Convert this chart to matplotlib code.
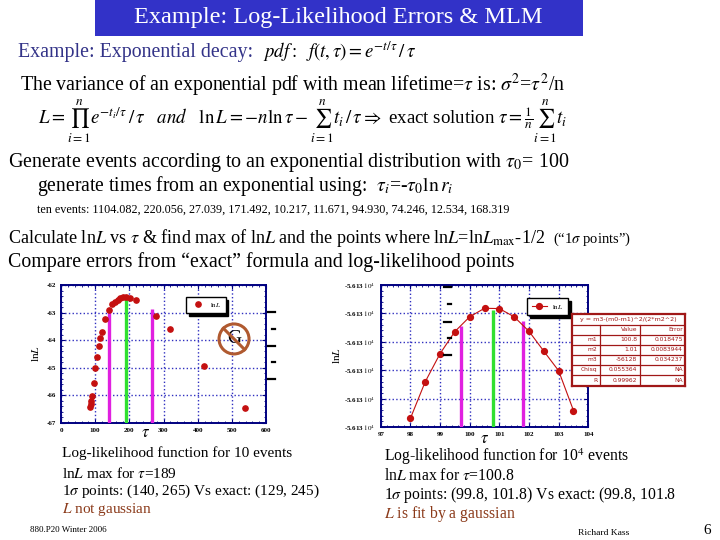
import numpy as np
import matplotlib.pyplot as plt
from matplotlib.patches import Ellipse, Rectangle
from matplotlib.lines import Line2D
from matplotlib.ticker import MultipleLocator, FuncFormatter

plt.rcParams['font.family'] = 'serif'
plt.rcParams['font.serif'] = ['Liberation Serif', 'DejaVu Serif']
plt.rcParams['mathtext.fontset'] = 'stix'

W, H = 720, 540

# ---- data ----
# 10 events: lnL vs tau
tau_10 = [85.9, 86.8, 87.8, 89.7, 96.6, 100.4, 104.5, 110.3, 115.0, 120.0, 128.8,
          140.5, 150.0, 158.0, 166.0, 173.6, 181.4, 189.0, 201.0, 219.5, 279.5,
          319.5, 418.8, 538.5]
lnl_10 = [-66.43, -66.31, -66.19, -66.02, -65.54, -65.02, -64.61, -64.22, -63.92,
          -63.70, -63.22, -62.91, -62.69, -62.62, -62.54, -62.48, -62.43, -62.42,
          -62.46, -62.56, -63.11, -63.61, -64.93, -66.46]
sig_10 = [140, 265]
sig_10_top = [-62.85, -62.86]
max_10 = 189
max_10_top = -62.40

# 10^4 events: lnL vs tau
tau_1e4 = [98.0, 98.5, 99.0, 99.5, 100.0, 100.5, 101.0, 101.5, 102.0, 102.5, 103.0, 103.5]
lnl_1e4 = [-56134.30, -56133.01, -56132.02, -56131.24, -56130.72, -56130.42,
           -56130.43, -56130.72, -56131.23, -56131.93, -56132.62, -56134.02]
sig_1e4 = [99.7, 101.8]
sig_1e4_top = [-56131.05, -56130.85]
max_1e4 = 100.8
max_1e4_top = -56130.48
ylim_1e4 = (-56134.6, -56129.6)

# gaussian fit table
fit_title = "y = m3-(m0-m1)^2/(2*m2^2)"
fit_rows = ["m1", "m2", "m3", "Chisq", "R"]
fit_values = ["100.8", "1.01", "-56128", "0.055364", "0.99962"]
fit_errors = ["0.018475", "0.0083944", "0.034237", "NA", "NA"]

ten_events = [1104.082, 220.056, 27.039, 171.492, 10.217, 11.671, 94.930, 74.246, 12.534, 168.319]

RED = '#c41010'
NAVY = '#000080'
GRID = '#3030c0'
MAG = '#e020e0'
GREEN = '#30e030'
BROWN = '#8b3a1a'
TRED = '#a01818'


def fx(x):
    return x / W


def fy(y):
    return 1 - y / H


def style_axes(ax):
    for s in ax.spines.values():
        s.set_color(NAVY)
        s.set_linewidth(1.4)
    ax.tick_params(which='both', direction='in', top=True, right=True,
                   colors=NAVY, labelcolor='black', labelsize=5)
    ax.tick_params(which='major', length=3)
    ax.tick_params(which='minor', length=1.5)
    ax.grid(True, which='major', color=GRID, linestyle=':', linewidth=1.0)
    for lab in ax.get_xticklabels() + ax.get_yticklabels():
        lab.set_fontweight('bold')


fig = plt.figure(figsize=(7.2, 5.4), dpi=100)

# ---- title bar ----
fig.patches.append(Rectangle((fx(95), fy(36)), fx(488), 36 / H, transform=fig.transFigure,
                             facecolor='#3232c8', edgecolor='none'))
fig.text(fx(338), fy(18), "Example: Log-Likelihood Errors & MLM", color='white',
         fontsize=17.5, ha='center', va='center')

# ---- slide text ----
fig.text(fx(18), fy(52), "Example: Exponential decay:", color='#333388', fontsize=14.3,
         va='center')
fig.text(fx(263), fy(52), r"$pdf:\ \ f(t,\tau)=e^{-t/\tau}\,/\,\tau$", fontsize=13.5,
         va='center')
fig.text(fx(20), fy(85), r"The variance of an exponential pdf with mean lifetime=$\tau$ is: "
         r"$\sigma^2$=$\tau^2$/n", fontsize=14.3, va='center')
fig.text(fx(38), fy(121),
         r"$L=\prod_{i=1}^{n}e^{-t_i/\tau}\,/\,\tau\quad and\quad \ln L=-n\ln\tau-"
         r"\sum_{i=1}^{n}t_i\,/\,\tau\Rightarrow$ exact solution $\tau=\frac{1}{n}\sum_{i=1}^{n}t_i$",
         fontsize=13.6, va='center')
fig.text(fx(8), fy(163), r"Generate events according to an exponential distribution with "
         r"$\tau_0$= 100", fontsize=14.4, va='center')
fig.text(fx(37), fy(186), r"generate times from an exponential using:  $\tau_i$=-$\tau_0\ln r_i$",
         fontsize=14.1, va='center')
fig.text(fx(37), fy(210), "ten events: " + ", ".join("%.3f" % v for v in ten_events),
         fontsize=8.7, va='center')
fig.text(fx(8), fy(238), r"Calculate ln$L$ vs $\tau$ & find max of ln$L$ and the points where "
         r"ln$L$=ln$L_{\rm max}$-1/2", fontsize=13.1, va='center')
fig.text(fx(553), fy(239), r"(“1$\sigma$ points”)", fontsize=10.5, va='center')
fig.text(fx(8), fy(262), "Compare errors from “exact” formula and log-likelihood points",
         fontsize=14.3, va='center')

# ---- left plot: 10 events ----
axl = fig.add_axes([fx(61), fy(423), 205 / W, 138 / H])
axl.vlines(sig_10, -67, sig_10_top, color=MAG, linewidth=2.4, zorder=3)
axl.vlines([max_10], -67, [max_10_top], color=GREEN, linewidth=2.4, zorder=3)
axl.plot(tau_10, lnl_10, 'o', color=RED, markersize=3.8, label=r"ln$L$", zorder=4)
axl.set_xlim(0, 600)
axl.set_ylim(-67, -62)
axl.xaxis.set_major_locator(MultipleLocator(100))
axl.xaxis.set_minor_locator(MultipleLocator(20))
axl.yaxis.set_major_locator(MultipleLocator(1))
axl.yaxis.set_minor_locator(MultipleLocator(0.2))
axl.yaxis.set_major_formatter(FuncFormatter(lambda v, p: "%d" % v))
style_axes(axl)
axl.set_xlabel(r"$\tau$", fontsize=12)
axl.xaxis.set_label_coords(0.41, -0.015)
axl.set_ylabel(r"ln$L$", fontsize=8, labelpad=4)
axl.legend(loc='upper left', bbox_to_anchor=(0.595, 0.94), fontsize=5, fancybox=False,
           edgecolor='black', shadow={'color': 'black', 'alpha': 1}, handletextpad=0.8,
           borderpad=0.6, framealpha=1)
# "not gaussian" sign
axl.add_patch(Ellipse((0.844, 0.609), 30 / 205, 30 / 138, transform=axl.transAxes,
                      facecolor='none', edgecolor='#b05a30', linewidth=2.2, zorder=5))
axl.text(0.844, 0.609, "G", transform=axl.transAxes, fontsize=14, ha='center', va='center',
         zorder=6)
axl.plot([0.844 - 0.052, 0.844 + 0.052], [0.609 + 0.077, 0.609 - 0.077],
         transform=axl.transAxes, color='#b05a30', linewidth=2.2, zorder=7)
# stray dashes beside the plot
for yy, long_dash in zip([312, 329, 346, 362, 379], [1, 0, 1, 0, 1]):
    x0 = 268 if long_dash else 271.5
    fig.add_artist(Line2D([fx(x0), fx(274.5)], [fy(yy), fy(yy)], color='black', linewidth=1.6))

# ---- right plot: 10^4 events ----
axr = fig.add_axes([fx(380.7), fy(427), 207.6 / W, 142 / H])
axr.vlines(sig_1e4, ylim_1e4[0], sig_1e4_top, color=MAG, linewidth=2.4, zorder=3)
axr.vlines([max_1e4], ylim_1e4[0], [max_1e4_top], color=GREEN, linewidth=2.4, zorder=3)
axr.plot(tau_1e4, lnl_1e4, '-o', color=RED, markersize=4.2, linewidth=0.8,
         markeredgecolor=RED, label=r"ln$L$", zorder=4)
axr.set_xlim(97, 104)
axr.set_ylim(*ylim_1e4)
axr.xaxis.set_major_locator(MultipleLocator(1))
axr.xaxis.set_minor_locator(MultipleLocator(0.2))
axr.set_yticks(np.arange(ylim_1e4[0], ylim_1e4[1] + 0.01, 1.0))
axr.yaxis.set_minor_locator(MultipleLocator(0.2))
axr.yaxis.set_major_formatter(FuncFormatter(lambda v, p: "%.3f $10^{4}$" % (v / 1e4)))
style_axes(axr)
axr.set_xlabel(r"$\tau$", fontsize=12)
axr.xaxis.set_label_coords(0.5, -0.03)
axr.set_ylabel(r"ln$L$", fontsize=8, labelpad=2)
axr.legend(loc='upper left', bbox_to_anchor=(0.69, 0.93), fontsize=5, fancybox=False,
           edgecolor='black', shadow={'color': 'black', 'alpha': 1}, handlelength=2.2,
           borderpad=0.6, framealpha=1)
for yy, long_dash in zip([287, 304, 322, 338, 355], [1, 0, 1, 0, 1]):
    x0 = 444 if long_dash else 447.5
    fig.add_artist(Line2D([fx(x0), fx(451)], [fy(yy), fy(yy)], color='black', linewidth=1.6))

# ---- fit table ----
axt = fig.add_axes([fx(571.7), fy(386), (685 - 571.7) / W, (386 - 314.3) / H], zorder=10)
axt.set_xlim(35, 375)
axt.set_ylim(228, 13)
axt.set_xticks([])
axt.set_yticks([])
for s in axt.spines.values():
    s.set_color(TRED)
    s.set_linewidth(1.6)
row_edges = [45, 75, 105, 135, 165, 195, 228]
for yy in row_edges[:-1]:
    axt.axhline(yy, color=TRED, linewidth=0.9)
for xx in [120, 240]:
    axt.plot([xx, xx], [45, 228], color=TRED, linewidth=0.9)
axt.text(205, 29, fit_title, color=TRED, fontsize=4.6, ha='center', va='center',
         family='DejaVu Sans')
axt.text(232, 60, "Value", color=TRED, fontsize=4.3, ha='right', va='center', family='DejaVu Sans')
axt.text(368, 60, "Error", color=TRED, fontsize=4.3, ha='right', va='center', family='DejaVu Sans')
for i, (name, val, err) in enumerate(zip(fit_rows, fit_values, fit_errors)):
    yc = (row_edges[i + 1] + row_edges[i + 2]) / 2
    axt.text(112, yc, name, color=TRED, fontsize=4.3, ha='right', va='center', family='DejaVu Sans')
    axt.text(232, yc, val, color=TRED, fontsize=4.3, ha='right', va='center', family='DejaVu Sans')
    axt.text(368, yc, err, color=TRED, fontsize=4.3, ha='right', va='center', family='DejaVu Sans')

# ---- captions under the plots ----
fig.text(fx(62), fy(453), "Log-likelihood function for 10 events", fontsize=11, va='center')
fig.text(fx(62), fy(473), r"ln$L$ max for $\tau$=189", fontsize=11, va='center')
fig.text(fx(62), fy(491), r"1$\sigma$ points: (140, 265) Vs exact: (129, 245)", fontsize=11,
         va='center')
fig.text(fx(62), fy(510), r"$L$ not gaussian", fontsize=11, va='center', color=BROWN)

fig.text(fx(384), fy(457), r"Log-likelihood function for 10$^4$ events", fontsize=11.3, va='center')
fig.text(fx(384), fy(476), r"ln$L$ max for $\tau$=100.8", fontsize=11.3, va='center')
fig.text(fx(384), fy(495), r"1$\sigma$ points: (99.8, 101.8) Vs exact: (99.8, 101.8", fontsize=11.3,
         va='center')
fig.text(fx(384), fy(514), r"$L$ is fit by a gaussian", fontsize=11.3, va='center', color=BROWN)

fig.text(fx(30), fy(530), "880.P20 Winter 2006", fontsize=6.5, va='center')
fig.text(fx(578), fy(533), "Richard Kass", fontsize=6.8, va='center')
fig.text(fx(703), fy(531), "6", fontsize=11, va='center')

fig.savefig("out.png", dpi=100)
